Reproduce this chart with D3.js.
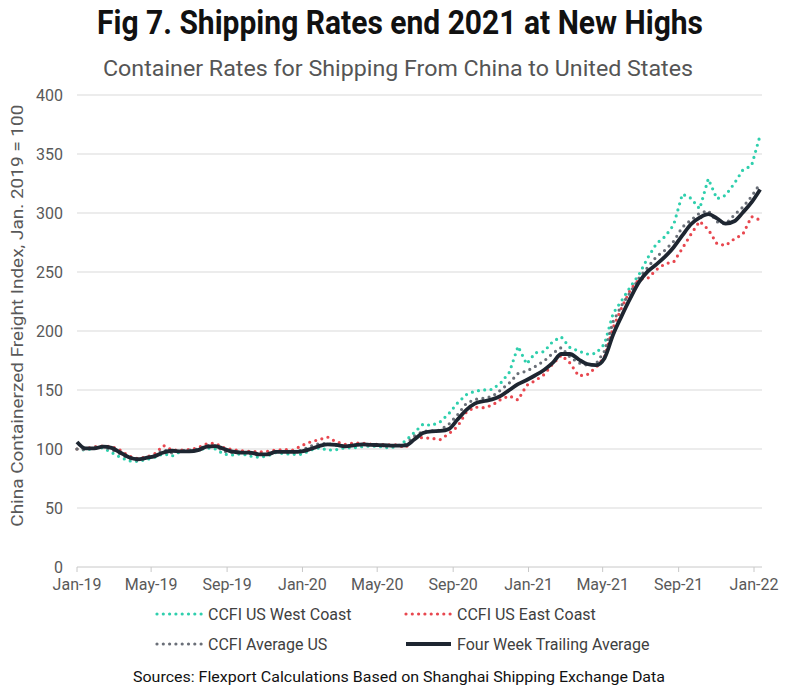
<!DOCTYPE html>
<html>
<head>
<meta charset="utf-8">
<script src="https://cdn.jsdelivr.net/npm/d3@7"></script>
<style>
  body { margin: 0; background: #fff; }
  text { font-family: Roboto, "Liberation Sans", sans-serif; }
</style>
</head>
<body>
<div id="chart"></div>
<script>
// Bi-weekly readings, first one on 1 Jan 2019
const startDate = new Date(2019, 0, 1);
const stepDays = 14;

const westCoast = [
  100, 99, 101, 101, 97, 93, 90, 89.5, 91, 93, 96, 94, 98, 98, 99, 101, 100, 95.5, 95, 96,
  94, 93, 94, 97, 96, 95.5, 95.5, 99, 101, 99, 99.5, 101, 101, 102, 102.5, 102, 101, 102, 107, 114,
  121, 120, 123, 130, 139, 146, 149, 150, 150.5, 156, 165, 187, 172, 181.6, 182.5, 191, 195, 186, 183, 180.5,
  181, 189, 215, 226, 237.5, 248, 262, 274, 280, 290, 316, 312.5, 303.5, 329, 312, 315, 325, 336.5, 340, 366
];
const eastCoast = [
  100, 100, 102, 102.5, 102, 99, 94, 92, 93, 96, 103, 99, 99, 99.5, 101, 104.5, 104.8, 101, 99.5, 98.5,
  98, 97.5, 98, 99, 99.5, 99, 103, 106, 108, 110, 106, 104, 105, 105, 104, 104, 103.5, 103.5, 101, 110,
  109.5, 109, 108, 113, 119, 131, 135.5, 135, 137, 142, 145, 141.5, 154, 158, 163, 172, 179.5, 173, 162, 163,
  169, 178, 203, 220, 235, 244, 244.6, 252, 257, 258.5, 270, 282, 293, 286, 274, 272.5, 278, 282, 297, 294
];
const averageUS = [
  100, 99.5, 101.5, 102, 99.5, 96, 92, 90.5, 92, 94.5, 99.5, 96.5, 98.5, 99, 100, 103, 102.5, 98, 97, 97.5,
  96, 95, 96, 98, 97.5, 97, 99, 102.5, 104.5, 104.5, 103, 102.5, 103, 103.5, 103, 103, 102.3, 102.8, 104, 111,
  115, 115.3, 116, 121, 129, 138.5, 142, 143, 144.5, 150, 156, 164, 166, 170, 174.5, 181, 186, 178, 173, 171,
  172, 183, 208, 222, 233, 245, 254, 263, 268.5, 276, 288, 294, 300, 302, 292.6, 290.5, 298.3, 305, 314, 325
];
const fourWeekAvg = [
  106, 100.5, 100.5, 102, 101, 97, 93, 91.3, 92.5, 94, 97, 98.5, 98, 98, 99, 102, 102.5, 100, 97.7, 97,
  97, 95.5, 95.5, 97.5, 97.5, 97.5, 98, 100, 102.5, 104, 103.5, 102.3, 103, 104, 103.5, 103.3, 103, 102.8, 103, 108,
  113.5, 115, 115.3, 117, 125, 133, 138.5, 140.5, 142, 145, 150, 155, 158.5, 162.5, 167, 173, 180.5, 180.5, 176, 172,
  171, 177, 197, 213, 228, 241.5, 250.5, 256.5, 263, 271, 281, 290.5, 296, 299, 295.5, 291, 293, 300.5, 309, 320
];

const xTickLabels = ['Jan-19', 'May-19', 'Sep-19', 'Jan-20', 'May-20', 'Sep-20', 'Jan-21', 'May-21', 'Sep-21', 'Jan-22'];
const yTickValues = [0, 50, 100, 150, 200, 250, 300, 350, 400];

const seriesNames = ['CCFI US West Coast', 'CCFI US East Coast', 'CCFI Average US', 'Four Week Trailing Average'];
const seriesColors = ['#2fcfad', '#e8474f', '#6a6f78', '#1e2631'];

const width = 800, height = 694;
const svg = d3.select('#chart').append('svg')
    .attr('width', width).attr('height', height)
    .attr('viewBox', `0 0 ${width} ${height}`);

const dates = fourWeekAvg.map((_, i) => d3.timeDay.offset(startDate, i * stepDays));
const parseTick = d3.timeParse('%b-%y');
const tickDates = xTickLabels.map(parseTick);

const x = d3.scaleTime().domain([tickDates[0], tickDates[tickDates.length - 1]]).range([77, 754]);
const y = d3.scaleLinear().domain([0, 400]).range([567, 95]);
const plotRight = 762;

// Titles
svg.append('text')
    .attr('x', 400).attr('y', 34).attr('text-anchor', 'middle')
    .attr('font-size', 33).attr('font-weight', 700).attr('fill', '#111')
    .attr('textLength', 606).attr('lengthAdjust', 'spacingAndGlyphs')
    .text('Fig 7. Shipping Rates end 2021 at New Highs');
svg.append('text')
    .attr('x', 398).attr('y', 76).attr('text-anchor', 'middle')
    .attr('font-size', 22).attr('fill', '#555')
    .attr('textLength', 590).attr('lengthAdjust', 'spacingAndGlyphs')
    .text('Container Rates for Shipping From China to United States');

// Gridlines
svg.append('g').selectAll('line')
    .data(yTickValues.filter((v) => v > 0))
    .join('line')
    .attr('x1', x.range()[0]).attr('x2', plotRight)
    .attr('y1', (d) => y(d)).attr('y2', (d) => y(d))
    .attr('stroke', '#d9d9d9').attr('stroke-width', 1);

// Y axis labels
svg.append('g').selectAll('text')
    .data(yTickValues)
    .join('text')
    .attr('x', 63).attr('y', (d) => y(d)).attr('dy', '0.35em')
    .attr('text-anchor', 'end').attr('font-size', 16).attr('fill', '#595959')
    .text((d) => d);

svg.append('text')
    .attr('transform', `translate(23,${y(213)}) rotate(-90)`)
    .attr('text-anchor', 'middle').attr('font-size', 17).attr('fill', '#595959')
    .attr('textLength', 422).attr('lengthAdjust', 'spacingAndGlyphs')
    .text('China Containerzed Freight Index, Jan. 2019 = 100');

// X axis
const xAxis = svg.append('g').attr('transform', `translate(0,${y(0)})`);
xAxis.append('line')
    .attr('x1', x.range()[0]).attr('x2', plotRight)
    .attr('stroke', '#c8c8c8');
xAxis.selectAll('line.tick')
    .data(tickDates)
    .join('line').attr('class', 'tick')
    .attr('x1', (d) => x(d)).attr('x2', (d) => x(d))
    .attr('y1', 0).attr('y2', 5)
    .attr('stroke', '#c8c8c8');
xAxis.selectAll('text')
    .data(tickDates)
    .join('text')
    .attr('x', (d) => x(d)).attr('y', 23)
    .attr('text-anchor', 'middle').attr('font-size', 16).attr('fill', '#595959')
    .text((d, i) => xTickLabels[i]);

// Lines
const straight = d3.line().x((d, i) => x(dates[i])).y((d) => y(d));
const smooth = d3.line().x((d, i) => x(dates[i])).y((d) => y(d)).curve(d3.curveMonotoneX);

const dotted = (sel, color) => sel
    .attr('fill', 'none').attr('stroke', color).attr('stroke-width', 3.2)
    .attr('stroke-linecap', 'round').attr('stroke-dasharray', '0 6.3');

svg.append('path').datum(westCoast).attr('d', straight).call(dotted, seriesColors[0]);
svg.append('path').datum(eastCoast).attr('d', straight).call(dotted, seriesColors[1]);
svg.append('path').datum(averageUS).attr('d', straight).call(dotted, seriesColors[2]);
svg.append('path').datum(fourWeekAvg).attr('d', smooth)
    .attr('fill', 'none').attr('stroke', seriesColors[3]).attr('stroke-width', 3.8)
    .attr('stroke-linejoin', 'round');

// Legend
const legendPos = [[157, 614], [406, 614], [157, 644], [406, 644]];
const legend = svg.append('g');
seriesNames.forEach((name, i) => {
    const [lx, ly] = legendPos[i];
    const sample = legend.append('line')
        .attr('x1', lx).attr('x2', lx + 45).attr('y1', ly).attr('y2', ly);
    if (i < 3) sample.call(dotted, seriesColors[i]);
    else sample.attr('stroke', seriesColors[i]).attr('stroke-width', 4);
    legend.append('text')
        .attr('x', lx + 51).attr('y', ly).attr('dy', '0.35em')
        .attr('font-size', 16).attr('fill', '#404040')
        .text(name);
});

// Source note
svg.append('text')
    .attr('x', 399).attr('y', 677).attr('dy', '0.35em').attr('text-anchor', 'middle')
    .attr('font-size', 15.5).attr('fill', '#111')
    .attr('textLength', 532).attr('lengthAdjust', 'spacingAndGlyphs')
    .text('Sources: Flexport Calculations Based on Shanghai Shipping Exchange Data');
</script>
</body>
</html>
